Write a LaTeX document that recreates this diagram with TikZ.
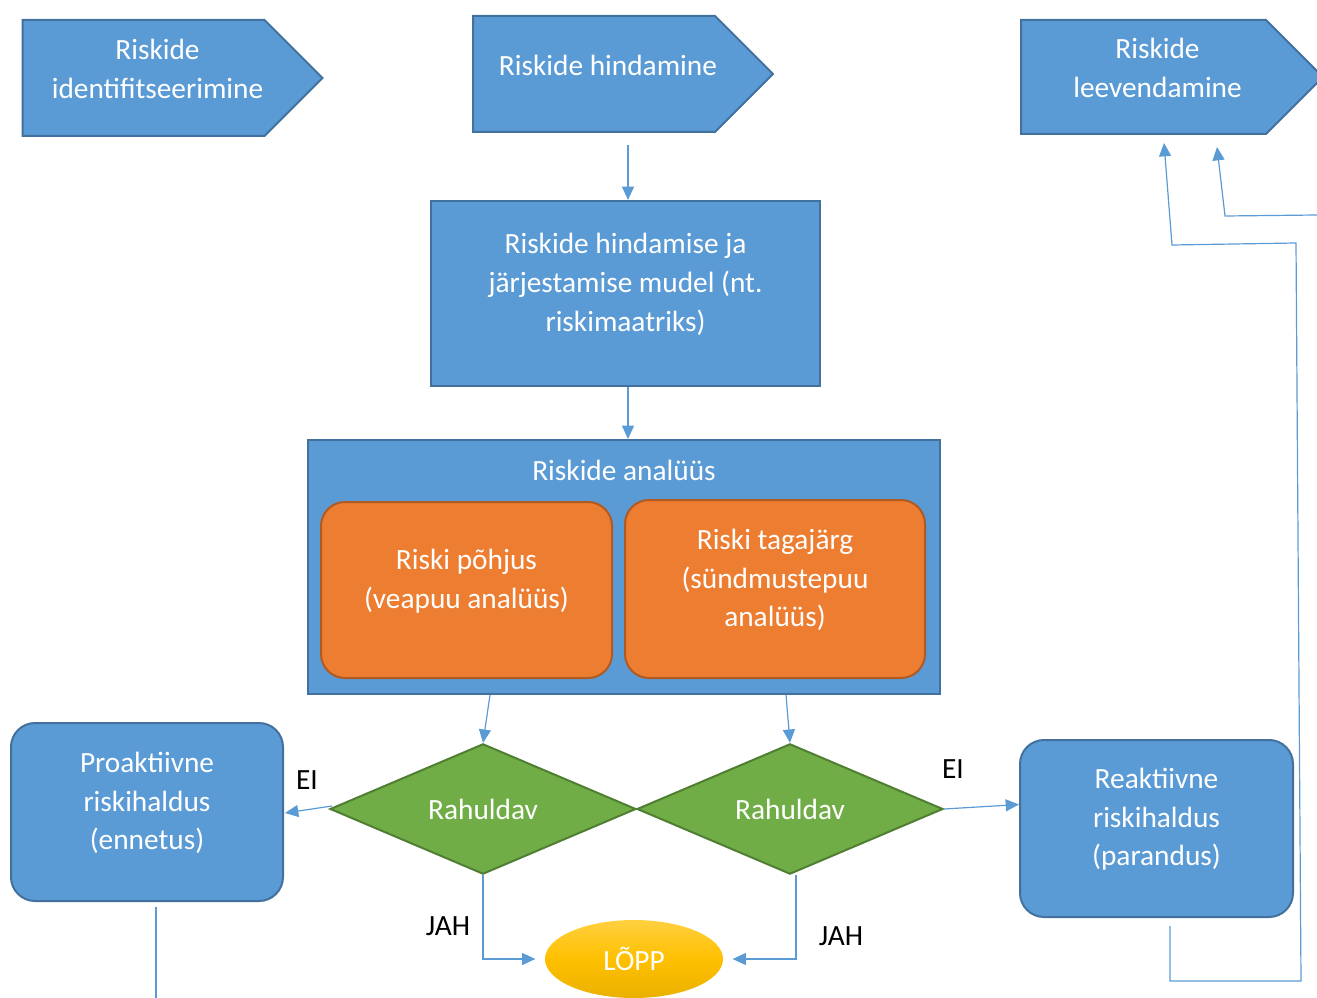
\documentclass[tikz,border=0pt]{standalone}
\usepackage{fontspec}
\setmainfont{Carlito}
\usetikzlibrary{shapes.geometric,shapes.symbols,arrows.meta,calc}

\definecolor{blueF}{HTML}{5B9BD5}
\definecolor{blueD}{HTML}{41719C}
\definecolor{orangeF}{HTML}{ED7D31}
\definecolor{orangeD}{HTML}{AE5A21}
\definecolor{greenF}{HTML}{70AD47}
\definecolor{greenD}{HTML}{507E32}
\definecolor{yellowF}{HTML}{FFC000}

\tikzset{
	txt/.style={font=\fontsize{22}{29}\selectfont, align=center},
	sisu/.style={label={[txt, text=white, yshift=6.75pt]center:#1}},
	faasisisu/.style={label={[txt, text=white, xshift=10.5pt, yshift=6.75pt]center:#1}},
	phase/.style={shape=signal, signal to=east, signal pointer angle=90,
		fill=blueF, draw=blueD, line width=1.5pt,
		minimum width=225pt, minimum height=87pt, inner sep=0pt},
	bluebox/.style={rectangle, fill=blueF, draw=blueD, line width=1.5pt},
	roundbox/.style={bluebox, rounded corners=18pt},
	subbox/.style={rectangle, rounded corners=18pt, fill=orangeF, draw=orangeD, line width=1.5pt},
	decision/.style={txt, diamond, fill=greenF, draw=greenD, line width=1.5pt, text=white,
		minimum width=229.5pt, minimum height=94.5pt, inner sep=0pt},
	endnode/.style={txt, ellipse, top color=yellowF!75!white, bottom color=yellowF!92!black,
		middle color=yellowF, draw=none, text=white, minimum width=133.5pt, minimum height=58.5pt},
	conn/.style={draw=blueF, line width=0.9pt},
	arr/.style={conn, -{Triangle[length=10pt,width=9pt]}},
	answer/.style={txt, text=black}
}

\begin{document}
\begin{tikzpicture}[x=0.75pt, y=-0.75pt]
	\useasboundingbox (0,0) rectangle (1317,998);

	% faasid
	\node [phase, faasisisu={Riskide\\identifitseerimine}] (ident) at (143.5,78) {};
	\node [phase, faasisisu={Riskide hindamine}] (hind) at (594,74) {};
	\node [phase, minimum width=226.5pt, minimum height=85.5pt,
		faasisisu={Riskide\\leevendamine}] (leev) at (1143.5,77) {};

	% mudel ja analyys
	\node [bluebox, minimum width=291.75pt, minimum height=138.75pt,
		sisu={Riskide hindamise ja\\järjestamise mudel (nt.\\riskimaatriks)}] (mudel) at (625.5,293.5) {};
	\node [bluebox, minimum width=474pt, minimum height=190.5pt] (analyys) at (624,567) {};
	\node [txt, text=white] (analyysinimi) at (624,470) {Riskide analüüs};
	\node [subbox, minimum width=218.25pt, minimum height=132pt,
		sisu={Riski põhjus\\(veapuu analüüs)}] (pohjus) at (466.5,590) {};
	\node [subbox, minimum width=225pt, minimum height=133.5pt,
		sisu={Riski tagajärg\\(sündmustepuu\\analüüs)}] (tagajarg) at (775,589) {};

	% otsused
	\node [decision] (rah1) at (483,809) {Rahuldav};
	\node [decision] (rah2) at (790,809) {Rahuldav};
	\node [roundbox, minimum width=204pt, minimum height=133.5pt,
		sisu={Proaktiivne\\riskihaldus\\(ennetus)}] (proakt) at (147,812) {};
	\node [roundbox, minimum width=204.75pt, minimum height=132.75pt,
		sisu={Reaktiivne\\riskihaldus\\(parandus)}] (reakt) at (1156.5,828.5) {};
	\node [endnode] (lopp) at (634,959) {LÕPP};

	% vabad otsad
	\coordinate (proaktots) at (156,998);
	\coordinate (paremserv) at (1317,215);

	% seosed
	\draw [arr] ($(mudel.north)+(2.5,-55)$) -- ($(mudel.north)+(2.5,0)$);
	\draw [arr] ($(mudel.south)+(2.5,0)$) -- ($(analyys.north)+(4,0)$);
	\draw [arr] ($(rah1.north)+(7,-48)$) -- (rah1.north);
	\draw [arr] ($(rah2.north)+(-4,-48)$) -- (rah2.north);
	\draw [arr] ($(rah1.west)+(3,-3)$) -- ($(proakt.east)+(1,1)$);
	\draw [arr] (rah2.east) -- ($(reakt.west)+(0,-24)$);
	\draw [arr, shorten >=7pt] (rah1.south) |- (lopp.west);
	\draw [arr, shorten >=7pt] ($(rah2.south)+(6,0)$) |- (lopp.east);
	\draw [conn] ($(proakt.south)+(9,5)$) -- (proaktots);
	\draw [arr] ($(reakt.south)+(13.5,8)$) -- (1170,981) -- (1301,981) -- (1296,243)
		-- (1172,245) -- ($(leev.south)+(20.5,8)$);
	\draw [arr] (paremserv) -- (1225,216) -- ($(leev.south)+(73.5,12)$);

	% vastused
	\node [answer] (ei1) at (307,780) {EI};
	\node [answer] (ei2) at (953,769) {EI};
	\node [answer] (jah1) at (448,926) {JAH};
	\node [answer] (jah2) at (841,936) {JAH};
\end{tikzpicture}
\end{document}
